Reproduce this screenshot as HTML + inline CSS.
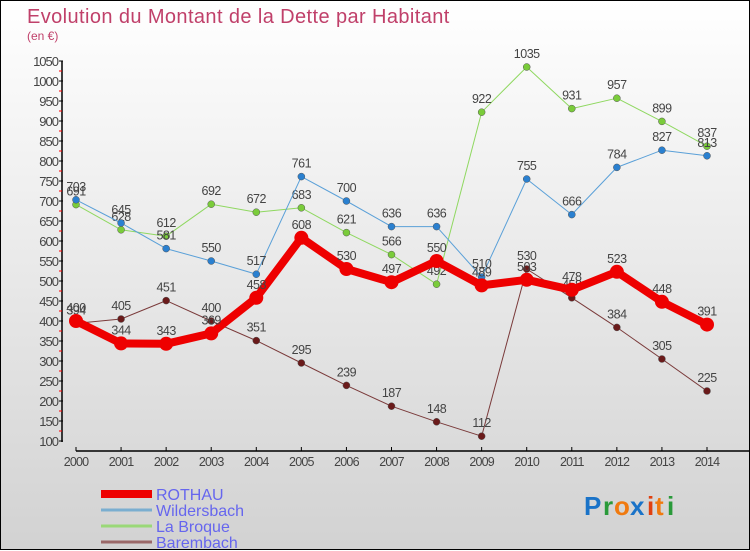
<!DOCTYPE html>
<html><head><meta charset="utf-8"><style>
html,body{margin:0;padding:0}
body{width:750px;height:550px;overflow:hidden;font-family:"Liberation Sans",sans-serif}
#wrap{position:relative;width:748px;height:548px;border:1px solid #000;background:linear-gradient(#ffffff,#d2d2d2)}
svg{position:absolute;left:0;top:0}
</style></head><body>
<div id="wrap">
<svg id="chart" width="750" height="550">
<text x="26" y="22" font-size="20" fill="#c0406a" letter-spacing="0.4">Evolution du Montant de la Dette par Habitant</text>
<text x="26" y="39" font-size="12" fill="#c0406a">(en €)</text>
<g id="axes"></g><g id="series"></g><g id="legend"></g>
<g font-size="26" font-weight="bold">
<text x="583" y="514" fill="#1a73c8">P</text><text x="602" y="514" fill="#2a9a3a">r</text><text x="613" y="514" fill="#f07a10">o</text><text x="629" y="514" fill="#1a73c8">x</text><text x="646" y="514" fill="#e04010">i</text><text x="654" y="514" fill="#f07a10">t</text><text x="666" y="514" fill="#2a9a3a">i</text>
</g>
</svg></div>
<script>
const years=[2000,2001,2002,2003,2004,2005,2006,2007,2008,2009,2010,2011,2012,2013,2014];
const rothau=[400,344,343,369,458,608,530,497,550,489,503,478,523,448,391];
const wildersbach=[703,645,581,550,517,761,700,636,636,510,755,666,784,827,813];
const laBroque=[691,628,612,692,672,683,621,566,492,922,1035,931,957,899,837];
const barembach=[394,405,451,400,351,295,239,187,148,112,530,458,384,305,225];
const yTicks=[100,150,200,250,300,350,400,450,500,550,600,650,700,750,800,850,900,950,1000,1050];
const NS="http://www.w3.org/2000/svg";
const xS=i=>75+i*(706-75)/(years.length-1);
const yS=v=>440-(v-100)*0.4;
function mk(tag,attrs,parent){const e=document.createElementNS(NS,tag);for(const k in attrs)e.setAttribute(k,attrs[k]);parent.appendChild(e);return e;}
const axes=document.getElementById('axes'),ser=document.getElementById('series'),leg=document.getElementById('legend');
let a=mk('line',{x1:61,y1:60,x2:61,y2:441,stroke:'#000','stroke-width':1.5},axes);


yTicks.forEach(v=>{
 mk('line',{x1:58,x2:62,y1:yS(v),y2:yS(v),stroke:'#000'},axes);
 if(v<1050) mk('line',{x1:58,x2:61,y1:yS(v+25),y2:yS(v+25),stroke:'#f00'},axes);
 const t=mk('text',{x:57,y:yS(v)+5,'text-anchor':'end','font-size':13,fill:'#444','letter-spacing':'-1'},axes);t.textContent=v;
 
 
});
let xa=mk('line',{x1:75,y1:450,x2:750,y2:450,stroke:'#000','stroke-width':1.5},axes);


years.forEach((y,i)=>{
 mk('line',{x1:xS(i),x2:xS(i),y1:446,y2:450,stroke:'#000'},axes);
 const t=mk('text',{x:xS(i),y:465,'text-anchor':'middle','font-size':12.5,fill:'#444','letter-spacing':'-0.8'},axes);t.textContent=y;
 
 
});
function draw(vals,name,color,dot,w,r){
 const g=mk('g',{},ser);
 
 
 let d='';vals.forEach((v,i)=>{d+=(i?'L':'M')+xS(i)+' '+yS(v);});
 mk('path',{d:d,fill:'none',stroke:color,'stroke-width':w,'stroke-linejoin':'round'},g);
 vals.forEach((v,i)=>{
  const c=mk('circle',{cx:xS(i),cy:yS(v),r:r,fill:dot,stroke:'#555','stroke-width':r>5?0:0.5},g);
  
  
  const t=mk('text',{x:xS(i),y:yS(v)-9,'text-anchor':'middle','font-size':12.5,fill:'#444','letter-spacing':'-0.5'},g);t.textContent=v;
  
  
 });
}
draw(barembach,'barembach','#7a3a3a','#6a1a1a',1,3.5);
draw(laBroque,'la-broque','#8fd860','#7acc3a',1,3.5);
draw(wildersbach,'wildersbach','#5aa0d8','#2a80d0',1,3.5);
draw(rothau,'rothau','#ee0000','#ee0000',8,7);
const names=['ROTHAU','Wildersbach','La Broque','Barembach'];
const cols=['#ee0000','#7aaed0','#9ad878','#9a6868'];
const ws=[8,3,3,3];
names.forEach((n,i)=>{
 const y=493+i*16;
 const l=mk('line',{x1:100,x2:151,y1:y,y2:y,stroke:cols[i],'stroke-width':ws[i]},leg);
 
 
 const t=mk('text',{x:155,y:y+6,'font-size':16,fill:'#6666ee'},leg);t.textContent=n;
 
 
});
</script>
</body></html>
